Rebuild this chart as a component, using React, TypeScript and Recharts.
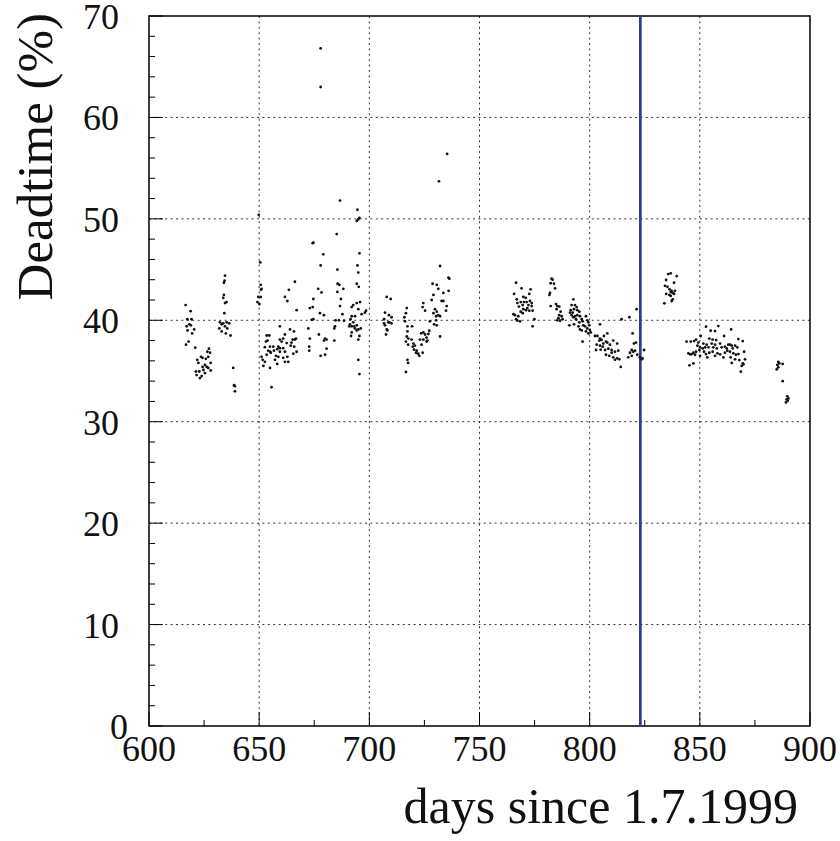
import React from 'react';
import {
  ScatterChart, Scatter, XAxis, YAxis, CartesianGrid, ReferenceLine, ReferenceArea, Label,
} from 'recharts';

// deadtime (%) per run, grouped by data-taking period
const period615: [number, number][] = [
  [616.6, 41.5], [618.9, 40.9], [617.4, 40.1], [619.3, 40.1], [618.3, 39.6], [617.1, 39.4],
  [619.0, 39.5], [620.5, 39.1], [619.6, 38.7], [617.5, 39.0], [618.0, 37.9], [616.8, 37.6],
  [621.0, 37.3],
  [627.2, 37.2], [626.5, 36.9], [627.7, 36.8], [626.9, 36.4], [623.6, 36.4], [624.3, 36.3],
  [621.9, 36.1], [625.8, 36.2], [628.0, 35.8], [622.4, 35.8], [625.4, 35.6], [626.2, 35.4],
  [621.3, 34.95], [624.7, 35.1], [628.0, 35.05], [621.6, 34.6], [623.9, 34.5], [623.1, 34.3],
  [625.4, 34.8], [626.9, 35.3], [622.8, 34.95], [624.3, 35.4],
];

const period632: [number, number][] = [
  [634.5, 44.4], [634.3, 43.9], [634.0, 43.7], [634.0, 42.5], [633.7, 42.2], [635.2, 41.8],
  [634.5, 41.7], [634.2, 40.7], [632.2, 39.8], [633.0, 39.6], [633.7, 39.7], [635.2, 39.8],
  [636.4, 39.7], [631.9, 39.2], [634.5, 39.4], [635.5, 39.2], [633.0, 38.9], [634.9, 38.7],
  [637.0, 38.5], [638.2, 35.3], [638.6, 33.6], [639.0, 33.5], [639.0, 33.0],
];

const period650: [number, number][] = [
  [649.8, 50.4], [650.5, 45.7], [650.8, 43.0], [650.7, 43.5], [651.1, 43.1], [649.6, 42.3],
  [650.7, 42.3], [649.2, 41.8], [650.1, 41.6],
  [666.2, 43.8], [663.5, 43.0], [661.7, 42.3], [662.8, 41.9], [667.0, 41.0], [674.6, 42.1],
  [676.8, 43.1], [678.3, 42.75], [673.0, 41.2], [674.3, 41.3], [677.6, 40.7], [679.4, 40.5],
  [674.6, 40.1], [673.8, 40.05], [659.4, 39.4], [664.0, 39.1], [665.8, 38.9], [672.3, 39.2],
  [653.4, 38.5], [654.6, 38.5], [661.7, 38.6], [660.9, 38.2], [666.2, 38.1], [665.2, 38.1],
  [666.7, 38.2], [673.0, 38.2], [677.1, 38.6], [679.9, 38.2], [680.6, 38.1], [679.4, 38.0],
  [653.1, 37.9], [653.8, 38.0], [659.4, 38.1], [660.2, 37.9], [662.5, 37.75], [664.7, 37.8],
  [652.6, 37.35], [654.9, 37.4], [656.4, 37.4], [658.7, 37.4], [659.4, 37.25], [658.2, 37.15],
  [660.9, 37.25], [664.3, 37.5], [665.9, 37.4], [672.7, 37.4], [654.1, 37.0], [654.9, 36.9],
  [655.3, 36.8], [656.7, 37.0], [659.4, 36.9], [661.7, 36.9], [667.0, 36.9], [672.7, 37.0],
  [680.6, 37.2], [651.1, 36.4], [653.4, 36.6], [657.6, 36.5], [658.7, 36.4], [662.8, 36.4],
  [665.5, 36.7], [679.9, 36.6], [677.9, 36.5], [651.6, 36.1], [652.6, 35.9], [657.2, 36.1],
  [658.2, 35.7], [660.9, 36.3], [661.7, 35.9], [663.2, 35.9], [654.9, 35.3], [651.9, 35.5],
  [655.6, 33.4],
];

const period675: [number, number][] = [
  [677.9, 66.8], [677.9, 63.0], [686.7, 51.8], [694.6, 50.9], [695.5, 50.1], [695.0, 49.96],
  [694.3, 49.8], [685.2, 48.5], [674.6, 47.65], [674.3, 47.6], [679.1, 46.5], [695.5, 46.6],
  [677.9, 45.4], [694.6, 45.4], [685.5, 45.0], [695.0, 44.7], [685.6, 43.6], [686.4, 43.5],
  [694.3, 43.6], [695.2, 43.3], [688.2, 43.1], [685.5, 42.8], [687.1, 42.1], [695.8, 41.8],
  [694.3, 41.7], [692.7, 41.5], [692.0, 41.3], [686.7, 41.4], [698.5, 40.95], [698.0, 40.75],
  [687.8, 40.6], [695.0, 41.1], [696.5, 40.6], [692.0, 40.4], [693.5, 40.4], [691.5, 40.1],
  [684.7, 40.0], [686.2, 40.0], [688.5, 39.96], [691.2, 39.6], [692.7, 39.8], [693.0, 39.4],
  [694.3, 39.5], [692.0, 39.4], [690.9, 39.4], [684.4, 39.4], [684.1, 39.2], [696.1, 39.2],
  [695.0, 39.1], [694.3, 39.0], [684.1, 38.0], [692.0, 38.8], [691.7, 38.45], [695.5, 38.45],
  [695.0, 38.1], [693.5, 39.2], [695.0, 36.1], [695.5, 34.7],
];

const period705: [number, number][] = [
  [707.9, 42.3], [709.7, 42.1], [707.1, 40.75], [706.7, 40.1], [708.9, 40.5], [710.1, 40.3],
  [706.7, 39.7], [707.1, 39.5], [709.1, 39.8], [710.1, 39.7], [707.9, 39.1], [708.6, 39.8],
  [707.6, 38.6], [708.2, 39.0],
  [717.0, 41.2], [716.6, 40.7], [715.9, 40.3], [716.2, 39.9], [717.3, 39.4], [719.4, 39.4],
  [717.3, 38.9], [717.0, 38.4], [717.7, 38.2], [716.6, 37.9], [717.6, 37.6], [719.2, 38.1],
  [720.0, 37.7], [720.7, 37.5], [721.5, 37.0], [720.3, 37.1], [719.7, 37.4], [721.2, 36.8],
  [722.2, 36.7], [722.7, 36.5], [724.2, 36.8], [723.7, 37.6], [724.5, 38.1], [725.3, 38.6],
  [726.0, 37.9], [726.3, 38.0], [723.0, 38.1], [717.3, 36.1], [717.6, 35.8], [716.6, 34.9],
];

const period725: [number, number][] = [
  [735.3, 56.4], [731.6, 53.7], [732.1, 45.35], [735.9, 44.2], [736.3, 44.1], [728.7, 43.6],
  [731.3, 43.1], [733.6, 42.7], [736.0, 42.9], [730.6, 43.5], [729.1, 42.5], [728.3, 42.0],
  [732.8, 41.9], [733.6, 41.9], [724.5, 41.7], [724.2, 41.3], [725.3, 40.95], [729.8, 41.1],
  [730.6, 40.85], [729.1, 40.7], [731.3, 40.5], [732.1, 40.4], [730.3, 40.4], [735.1, 41.4],
  [734.8, 40.95], [727.5, 39.9], [729.4, 39.6], [730.6, 39.5], [730.3, 40.0], [732.1, 38.4],
  [727.2, 38.97], [726.8, 38.65], [726.0, 38.3], [724.5, 38.8], [723.5, 38.7],
];

const period765: [number, number][] = [
  [766.6, 43.7], [769.1, 43.15], [773.2, 43.05], [765.7, 42.6], [772.6, 42.6], [766.9, 42.07],
  [769.9, 42.3], [771.0, 42.2], [768.7, 41.8], [770.2, 41.8], [771.4, 41.8], [772.9, 41.9],
  [773.7, 41.7], [767.2, 41.7], [769.6, 41.5], [772.2, 41.5], [767.9, 41.35], [773.7, 41.4],
  [771.7, 41.2], [774.1, 40.95], [768.7, 40.85], [765.4, 40.6], [766.1, 40.5], [769.6, 40.7],
  [767.6, 40.4], [766.6, 40.1], [767.2, 39.96], [768.4, 39.9], [774.9, 40.1], [774.1, 39.4],
  [769.9, 41.1], [771.1, 41.0], [772.6, 40.95],
];

const period780: [number, number][] = [
  [782.7, 44.1], [783.2, 44.0], [782.3, 43.65], [783.8, 43.6], [784.3, 43.15], [782.0, 42.7],
  [781.7, 42.5], [782.3, 41.4], [784.7, 41.6], [785.3, 41.4], [786.2, 41.35], [785.0, 41.1],
  [786.8, 40.85], [786.2, 40.5], [787.3, 40.4], [785.8, 40.2], [787.7, 40.1], [785.3, 40.0],
  [786.5, 39.96],
  [792.6, 42.07], [791.8, 41.5], [793.3, 41.5], [794.1, 41.3], [791.4, 41.0], [792.9, 41.1],
  [794.4, 41.0], [791.1, 40.75], [792.3, 40.75], [795.3, 40.85], [791.8, 40.5], [793.3, 40.4],
  [794.4, 40.5], [792.6, 40.3], [795.6, 40.4], [793.8, 40.1], [796.4, 40.1], [796.8, 39.9],
  [795.3, 39.8], [790.8, 39.5], [792.9, 39.6], [797.1, 39.5], [795.6, 39.1], [796.4, 39.0],
  [794.9, 39.4], [798.3, 40.4],
];

const period798: [number, number][] = [
  [798.9, 40.0], [799.4, 39.8], [799.8, 39.5], [797.9, 39.4], [798.9, 39.2], [800.1, 39.04],
  [798.3, 38.9], [799.4, 38.7], [800.5, 38.8], [796.8, 37.9], [804.7, 39.6],
  [802.4, 38.45], [803.5, 38.45], [804.7, 38.2], [806.5, 38.45], [808.0, 38.7], [804.4, 38.0],
  [805.4, 38.06], [807.4, 37.9], [803.2, 37.6], [804.7, 37.5], [806.2, 37.7], [808.0, 37.8],
  [809.2, 37.6], [810.7, 38.0], [812.5, 37.7], [802.9, 37.07], [805.0, 37.1], [807.0, 37.07],
  [808.5, 37.2], [810.0, 37.07], [811.5, 36.9], [813.0, 37.0], [807.4, 36.6], [808.9, 36.5],
  [810.7, 36.35], [811.5, 36.1], [812.5, 36.25], [813.5, 36.15], [814.1, 35.4], [810.0, 36.8],
  [805.9, 37.4],
  [814.5, 40.1], [818.0, 40.3], [821.3, 41.1], [819.5, 38.7], [820.1, 37.7], [821.0, 37.8],
  [819.1, 37.07], [820.6, 37.0], [818.3, 36.8], [817.5, 36.35], [819.1, 36.5], [821.6, 36.6],
  [822.8, 36.35], [823.6, 36.15], [824.7, 37.07], [824.0, 36.25], [819.8, 36.9],
];

const period833: [number, number][] = [
  [835.7, 44.56], [836.8, 44.63], [839.5, 44.36], [834.7, 43.97], [838.3, 43.7], [834.2, 43.4],
  [835.3, 43.3], [836.2, 43.05], [837.2, 42.9], [838.7, 42.9], [836.8, 42.8], [837.7, 42.7],
  [834.7, 42.6], [836.2, 42.5], [838.3, 42.6], [836.8, 42.4], [837.7, 42.06], [837.2, 41.9],
  [833.9, 41.67],
];

const period843: [number, number][] = [
  [852.8, 39.37], [858.4, 39.43], [854.9, 38.97], [856.9, 38.94], [864.2, 39.1], [861.0, 38.45],
  [850.4, 38.45], [854.3, 38.2], [855.8, 38.1], [857.4, 38.05], [867.5, 38.15], [869.5, 37.95],
  [844.0, 37.9], [845.9, 37.9], [847.4, 37.95], [848.3, 38.1], [849.3, 37.8], [851.6, 37.7],
  [853.1, 37.6], [855.4, 37.7], [856.9, 37.6], [859.2, 37.7], [862.9, 37.6], [863.7, 37.6],
  [864.5, 37.5], [866.0, 37.5], [867.0, 37.33], [848.9, 37.5], [850.1, 37.33], [851.3, 37.23],
  [852.4, 37.33], [853.9, 37.33], [856.1, 37.33], [857.7, 37.23], [859.9, 37.33], [861.4, 37.4],
  [862.2, 37.23], [864.9, 37.23], [844.8, 36.74], [845.6, 36.64], [846.3, 36.67], [847.1, 36.8],
  [848.3, 36.9], [849.8, 37.07], [851.9, 36.9], [852.8, 36.67], [854.3, 36.8], [855.8, 36.9],
  [858.0, 36.74], [859.2, 36.64], [861.4, 36.8], [862.5, 37.0], [863.7, 36.9], [865.2, 36.74],
  [866.4, 36.6], [867.5, 36.67], [870.1, 36.9], [847.8, 36.6], [850.1, 36.5], [853.4, 36.34],
  [856.9, 36.5], [860.7, 36.34], [864.0, 36.34], [866.0, 36.15], [867.9, 36.08], [870.5, 36.15],
  [869.5, 35.75], [869.0, 35.5], [847.1, 35.75], [845.3, 35.56], [864.5, 35.8], [868.6, 34.93],
  [869.8, 35.65],
];

const period885: [number, number][] = [
  [885.6, 35.9], [885.2, 35.6], [886.1, 35.75], [887.6, 35.7], [884.9, 35.16], [885.6, 35.36],
  [887.6, 34.0], [889.7, 32.5], [889.4, 32.2], [889.9, 32.07], [889.1, 31.9], [890.2, 32.3],
];

const markerDay = 823;

const xTicks = [600, 625, 650, 675, 700, 725, 750, 775, 800, 825, 850, 875, 900];
const yTicks = [0, 2, 4, 6, 8, 10, 12, 14, 16, 18, 20, 22, 24, 26, 28, 30, 32, 34, 36, 38, 40,
  42, 44, 46, 48, 50, 52, 54, 56, 58, 60, 62, 64, 66, 68, 70];
const xGrid = [650, 700, 750, 800, 850];
const yGrid = [10, 20, 30, 40, 50, 60];

const points = [
  ...period615, ...period632, ...period650, ...period675, ...period705, ...period725,
  ...period765, ...period780, ...period798, ...period833, ...period843, ...period885,
].map(([day, deadtime]) => ({ day, deadtime }));

const FONT = '"Liberation Serif", "Times New Roman", serif';

const XTick = (props: any) => {
  const { x, y, payload } = props;
  const major = payload.value % 50 === 0;
  return (
    <g>
      <line x1={x} x2={x} y1={y} y2={y - (major ? 14 : 6)} stroke="#000" strokeWidth={1} />
      {major && (
        <text x={x} y={y + 35} textAnchor="middle" fontSize={36} fontFamily={FONT} fill="#111">
          {payload.value}
        </text>
      )}
    </g>
  );
};

const YTick = (props: any) => {
  const { x, y, payload } = props;
  const major = payload.value % 10 === 0;
  const zero = payload.value === 0;
  return (
    <g>
      <line x1={x} x2={x + (major ? 14 : 6)} y1={y} y2={y} stroke="#000" strokeWidth={1} />
      {major && (
        <text x={zero ? x - 21 : x - 30} y={y + 13} textAnchor="end" fontSize={36} fontFamily={FONT} fill="#111">
          {payload.value}
        </text>
      )}
    </g>
  );
};

const Dot = (props: any) => <circle cx={props.cx} cy={props.cy} r={1.4} fill="#111" />;

export default function App() {
  return (
    <div style={{ position: 'absolute', left: 0, top: 0, width: 840, height: 841, background: '#fff' }}>
      <ScatterChart width={840} height={841} margin={{ top: 16, right: 30, left: 0, bottom: 0 }}>
        <CartesianGrid
          horizontalValues={yGrid}
          verticalValues={xGrid}
          stroke="#333"
          strokeDasharray="2 3.4"
        />
        <XAxis
          type="number"
          dataKey="day"
          domain={[600, 900]}
          ticks={xTicks}
          interval={0}
          height={115}
          axisLine={false}
          tickLine={false}
          tickSize={0}
          tickMargin={0}
          tick={<XTick />}
          allowDataOverflow
        >
          <Label
            content={(p: any) => {
              const vb = p.viewBox;
              return (
                <text x={vb.x + vb.width - 12} y={vb.y + 97} textAnchor="end" fontSize={50} fontFamily={FONT} fill="#111">
                  days since 1.7.1999
                </text>
              );
            }}
          />
        </XAxis>
        <YAxis
          type="number"
          dataKey="deadtime"
          domain={[0, 70]}
          ticks={yTicks}
          interval={0}
          width={149}
          axisLine={false}
          tickLine={false}
          tickSize={0}
          tickMargin={0}
          tick={<YTick />}
          allowDataOverflow
        >
          <Label
            content={(p: any) => {
              const vb = p.viewBox;
              const lx = vb.x + 52;
              const ly = vb.y - 3;
              return (
                <text x={lx} y={ly} transform={`rotate(-90, ${lx}, ${ly})`} textAnchor="end" fontSize={51} fontFamily={FONT} fill="#111">
                  Deadtime (%)
                </text>
              );
            }}
          />
        </YAxis>
        <Scatter data={points} shape={<Dot />} isAnimationActive={false} />
        <ReferenceLine x={markerDay} stroke="#2e3a9a" strokeWidth={2.7} />
        <ReferenceArea x1={600} x2={900} y1={0} y2={70} fill="none" stroke="#000" strokeWidth={1.5} />
      </ScatterChart>
    </div>
  );
}
